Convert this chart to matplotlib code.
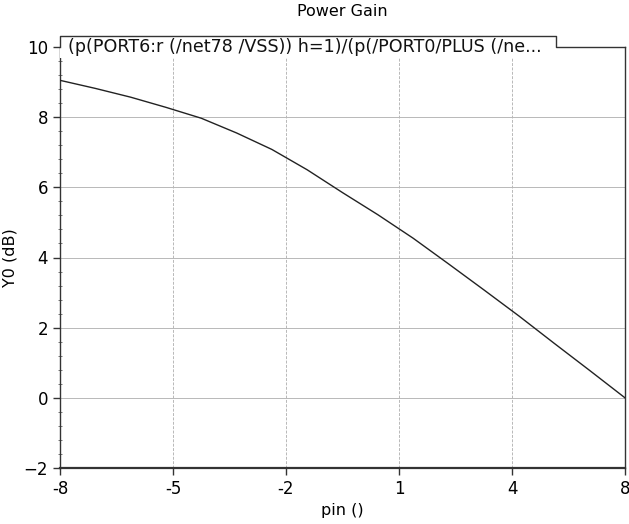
import matplotlib
matplotlib.use("Agg")
import matplotlib.pyplot as plt
import numpy as np
from matplotlib.ticker import FixedLocator, MultipleLocator

# swept input power and gain
pin = [-8, -7, -6, -5, -4, -3, -2, -1, 0, 1, 2, 3, 4, 5, 6, 7, 8]
gain_db = [9.05, 8.82, 8.57, 8.28, 7.97, 7.55, 7.08, 6.50, 5.85, 5.22,
           4.55, 3.82, 3.08, 2.33, 1.55, 0.78, 0.0]

x_ticks = np.linspace(-8, 8, 6)
x_tick_labels = ["-8", "-5", "-2", "1", "4", "8"]
y_ticks = [-2, 0, 2, 4, 6, 8, 10]
trace_name = "(p(PORT6:r (/net78 /VSS)) h=1)/(p(/PORT0/PLUS (/ne..."

fig = plt.figure(figsize=(6.29, 5.24), dpi=100)
ax = fig.add_axes([60 / 629, 56 / 524, 565 / 629, 421 / 524])

ax.plot(pin, gain_db, color="#222222", lw=1.0, zorder=3)

ax.set_xlim(-8, 8)
ax.set_ylim(-2, 10)
ax.xaxis.set_major_locator(FixedLocator(x_ticks))
ax.set_xticklabels(x_tick_labels)
ax.set_yticks(y_ticks)
ax.yaxis.set_minor_locator(MultipleLocator(0.4))
ax.tick_params(axis="both", which="major", labelsize=12, length=5,
               width=1, direction="out", color="#333333")
ax.tick_params(axis="y", which="minor", length=3, width=0.7,
               direction="inout", color="#777777")

ax.grid(True, axis="y", color="#b8b8b8", lw=0.7)
ax.grid(True, axis="x", color="#b8b8b8", lw=0.7, ls=(0, (3, 1.5)))

for s in ["left", "right"]:
    ax.spines[s].set_color("#333333")
    ax.spines[s].set_linewidth(1.0)
ax.spines["bottom"].set_color("#333333")
ax.spines["bottom"].set_linewidth(1.6)
ax.spines["top"].set_visible(False)

# tab holding the trace name, overlapping the top of the plot
tab_x = (556 - 60) / 565
tab_top = 1.025
ax.add_patch(plt.Rectangle((0, 0.975), tab_x, tab_top - 0.975,
                           transform=ax.transAxes, facecolor="white",
                           edgecolor="none", clip_on=False, zorder=4))
ax.plot([0, 0, tab_x, tab_x, 1], [1, tab_top, tab_top, 1, 1],
        transform=ax.transAxes, color="#333333", lw=1.0,
        clip_on=False, zorder=5)
ax.text(0.014, 1.0, trace_name, transform=ax.transAxes, fontsize=12.6,
        ha="left", va="center", color="#111111", zorder=6)

ax.set_title("Power Gain", fontsize=11.5, pad=22)
ax.set_xlabel("pin ()", fontsize=11.5, labelpad=4)
ax.set_ylabel("Y0 (dB)", fontsize=11.5)
ax.yaxis.set_label_coords(-0.075, 0.5)

fig.savefig("out.png", dpi=100)
